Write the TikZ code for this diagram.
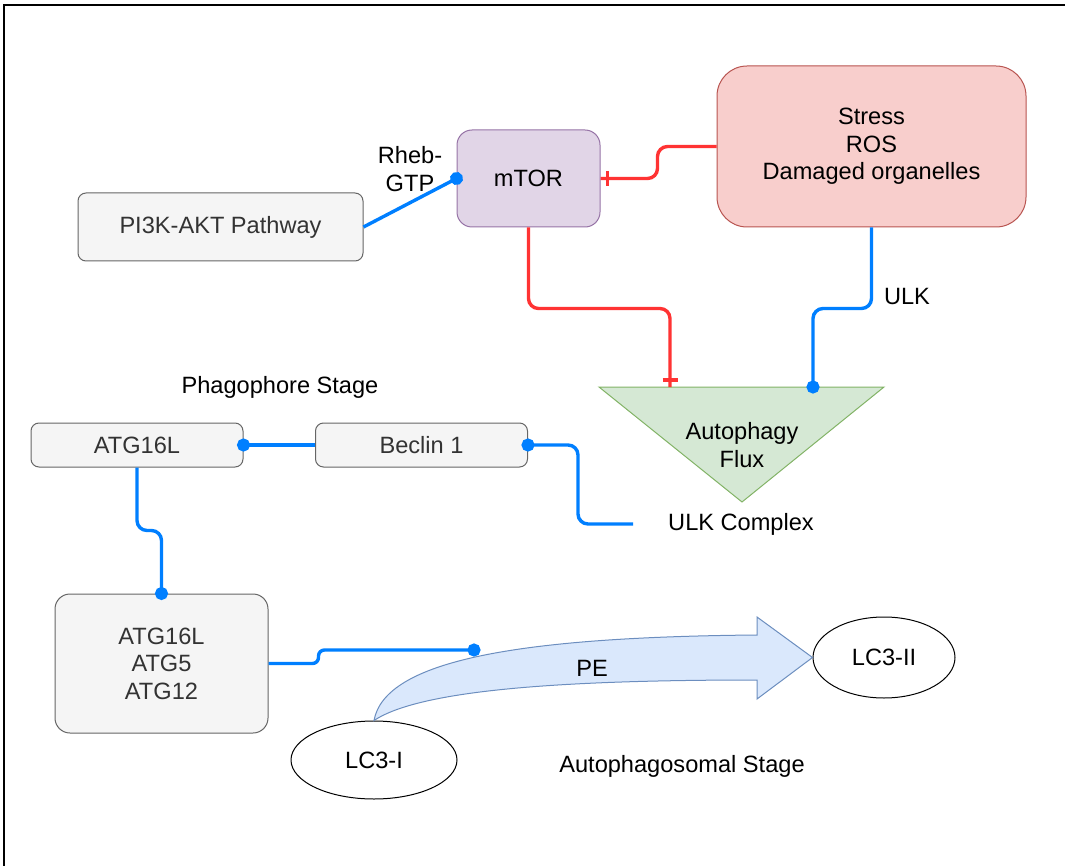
\documentclass[tikz,border=0pt]{standalone}
\usepackage{fontspec}
\setmainfont{Liberation Sans}
\usetikzlibrary{arrows.meta,shapes.geometric,decorations.markings}
\definecolor{boxfill}{HTML}{F5F5F5}
\definecolor{boxline}{HTML}{666666}
\definecolor{boxtext}{HTML}{333333}
\definecolor{mtorfill}{HTML}{E1D5E7}
\definecolor{mtorline}{HTML}{9673A6}
\definecolor{stressfill}{HTML}{F8CECC}
\definecolor{stressline}{HTML}{B85450}
\definecolor{fluxfill}{HTML}{D5E8D4}
\definecolor{fluxline}{HTML}{82B366}
\definecolor{pefill}{HTML}{DAE8FC}
\definecolor{peline}{HTML}{6C8EBF}
\definecolor{actblue}{HTML}{007FFF}
\definecolor{inhred}{HTML}{FF3333}

\begin{document}
\begin{tikzpicture}[x = 0.5pt, y = -0.5pt, font = \fontsize{11.8}{13.8}\selectfont,
  box/.style = {draw = boxline, fill = boxfill, text = boxtext, line width = 0.5pt, rounded corners = 4pt, align = center, inner sep = 0pt},
  oval/.style = {draw, ellipse, line width = 0.5pt, inner sep = 0pt},
  act/.style = {draw = actblue, line width = 1.7pt, rounded corners = 5pt, -{Circle[length = 6.5pt]}, shorten > = -3.25pt},
  inh/.style = {draw = inhred, line width = 1.7pt, rounded corners = 5pt,
    postaction = {decorate, decoration = {markings, mark = at position -3.5pt with {\draw[inhred, line width = 1.7pt] (0, -3.75pt) -- (0, 3.75pt);}}}}]
\useasboundingbox (0, 0) rectangle (1065, 866);
\draw[line width = 1pt] (4, 866) -- (4, 5) -- (1065, 5);
\node[box, minimum width = 142.5pt, minimum height = 34pt] (pi3k) at (220.5, 227) {PI3K-AKT Pathway};
\node[box, draw = mtorline, fill = mtorfill, text = black, minimum width = 71.5pt, minimum height = 48.5pt, rounded corners = 7.5pt] (mtor) at (528.5, 178.5) {mTOR};
\node[box, draw = stressline, fill = stressfill, text = black, minimum width = 154.5pt, minimum height = 80.5pt, rounded corners = 15pt] (stress) at (871.5, 146.5) {Stress\\ROS\\Damaged organelles};
\node[box, minimum width = 106pt, minimum height = 22pt] (atgA) at (137, 445) {ATG16L};
\node[box, minimum width = 106pt, minimum height = 22pt] (beclin) at (421.5, 445) {Beclin 1};
\node[box, minimum width = 106.5pt, minimum height = 69.5pt, rounded corners = 7.5pt] (atgcx) at (161.5, 663.5) {ATG16L\\ATG5\\ATG12};
\node[oval, minimum width = 83pt, minimum height = 39pt] (lcI) at (374, 760) {LC3-I};
\node[oval, minimum width = 71pt, minimum height = 40.5pt] (lcII) at (884, 657.5) {LC3-II};
\filldraw[fill = fluxfill, draw = fluxline, line width = 0.5pt] (599, 387) -- (884, 387) -- (742, 502) -- cycle;
\node[align = center] (flux) at (742, 445) {Autophagy\\Flux};
\coordinate (fluxL) at (670, 387);
\coordinate (fluxR) at (813, 387);
\coordinate (ulkend) at (633, 524);
\coordinate (pelink) at (474, 650);
\node[align = center] (rheb) at (410, 169) {Rheb-\\GTP};
\node (ulk) at (907, 296) {ULK};
\node (phago) at (280, 387) {Phagophore Stage};
\node (ulkcx) at (741, 524) {ULK Complex};
\node (autoph) at (682, 766) {Autophagosomal Stage};
\filldraw[fill = pefill, draw = peline, line width = 0.5pt] (lcI.north) .. controls (385, 660) and (520, 637) .. (757, 635) -- (757, 617) -- (lcII.west) -- (757, 699) -- (757, 680) .. controls (560, 680) and (420, 690) .. (lcI.north) -- cycle;
\node (pe) at (592, 668) {PE};
\draw[act] (pi3k.east) -- (mtor.west);
\draw[inh] (stress.west) -- ++(-59, 0) |- (mtor.east);
\draw[inh] (mtor.south) -- ++(0, 81) -| (fluxL);
\draw[act] (stress.south) -- ++(0, 81) -| (fluxR);
\draw[act] (beclin.west) -- (atgA.east);
\draw[act] (ulkend) -- ++(-55, 0) |- (beclin.east);
\draw[act] (atgA.south) -- ++(0, 63) -| (atgcx.north);
\draw[act, rounded corners = 3pt] (atgcx.east) -- ++(50, 0) |- (pelink);
\end{tikzpicture}
\end{document}
